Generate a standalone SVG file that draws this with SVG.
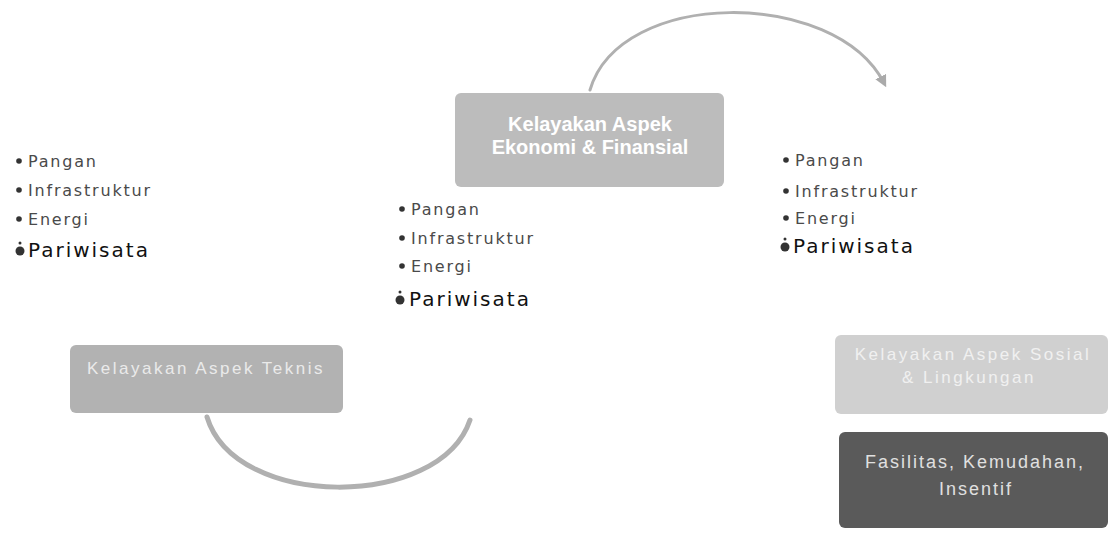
<svg xmlns="http://www.w3.org/2000/svg" width="1111" height="551" viewBox="0 0 1111 551">
<defs>
<style>
.bt{font-family:"Liberation Sans",Arial,sans-serif;fill:#ffffff;text-anchor:middle}
.item{font-family:"DejaVu Sans","Liberation Sans",sans-serif;font-size:16px;letter-spacing:1.8px;fill:#4a4a4a}
.big{font-family:"DejaVu Sans","Liberation Sans",sans-serif;font-size:20px;letter-spacing:2px;fill:#111111}
.dot{fill:#333333}
.arc{fill:none;stroke:#b0b0b0;stroke-linecap:round}
</style>
<marker id="ah" viewBox="0 0 10 10" refX="6" refY="5" markerWidth="4" markerHeight="4" orient="auto">
<path d="M0,0 L10,5 L0,10 z" fill="#aaaaaa"/>
</marker>
</defs>
<rect width="1111" height="551" fill="#ffffff"/>
<g id="connectors">
<path class="arc" d="M590,90 C620,-12 835,-12 884,83" stroke-width="3" marker-end="url(#ah)"/>
<path class="arc" d="M207,417 C235,510 440,510 470,420" stroke-width="5"/>
</g>
<g id="node-ekonomi">
<rect x="455" y="93" width="269" height="94" rx="6" fill="#bcbcbc"/>
<text class="bt" x="590" y="131" style="font-size:20px;font-weight:bold">Kelayakan Aspek</text>
<text class="bt" x="590" y="154" style="font-size:20px;font-weight:bold">Ekonomi &amp; Finansial</text>
</g>
<g id="node-teknis">
<rect x="70" y="345" width="273" height="68" rx="6" fill="#b2b2b2"/>
<text class="bt" x="206" y="374" style="font-size:17px;letter-spacing:2.5px;fill:#eaeaea">Kelayakan Aspek Teknis</text>
</g>
<g id="node-sosial">
<rect x="835" y="335" width="273" height="79" rx="6" fill="#d0d0d0"/>
<text class="bt" x="973" y="360" style="font-size:17px;letter-spacing:2.5px;fill:#f0f0f0">Kelayakan Aspek Sosial</text>
<text class="bt" x="969" y="383" style="font-size:17px;letter-spacing:2.5px;fill:#f0f0f0">&amp; Lingkungan</text>
</g>
<g id="node-fasilitas">
<rect x="839" y="432" width="269" height="96" rx="6" fill="#5a5a5a"/>
<text class="bt" x="975" y="468" style="font-size:18px;letter-spacing:2px;fill:#e0e0e0">Fasilitas, Kemudahan,</text>
<text class="bt" x="976" y="495" style="font-size:18px;letter-spacing:2px;fill:#e0e0e0">Insentif</text>
</g>
<g id="list-left">
<circle class="dot" cx="19" cy="161" r="2.8"/><text class="item" x="28" y="167">Pangan</text>
<circle class="dot" cx="19" cy="190" r="2.8"/><text class="item" x="28" y="196">Infrastruktur</text>
<circle class="dot" cx="19" cy="219" r="2.8"/><text class="item" x="28" y="225">Energi</text>
<circle class="dot" cx="20" cy="251" r="4.5"/><circle class="dot" cx="20" cy="243" r="1.5"/><text class="big" x="28" y="257">Pariwisata</text>
</g>
<g id="list-middle">
<circle class="dot" cx="402" cy="209" r="2.8"/><text class="item" x="411" y="215">Pangan</text>
<circle class="dot" cx="402" cy="238" r="2.8"/><text class="item" x="411" y="244">Infrastruktur</text>
<circle class="dot" cx="402" cy="266" r="2.8"/><text class="item" x="411" y="272">Energi</text>
<circle class="dot" cx="400" cy="300" r="4.5"/><circle class="dot" cx="400" cy="292" r="1.5"/><text class="big" x="409" y="306">Pariwisata</text>
</g>
<g id="list-right">
<circle class="dot" cx="786" cy="160" r="2.8"/><text class="item" x="795" y="166">Pangan</text>
<circle class="dot" cx="786" cy="191" r="2.8"/><text class="item" x="795" y="197">Infrastruktur</text>
<circle class="dot" cx="786" cy="218" r="2.8"/><text class="item" x="795" y="224">Energi</text>
<circle class="dot" cx="785" cy="247" r="4.5"/><circle class="dot" cx="785" cy="239" r="1.5"/><text class="big" x="793" y="253">Pariwisata</text>
</g>
</svg>
